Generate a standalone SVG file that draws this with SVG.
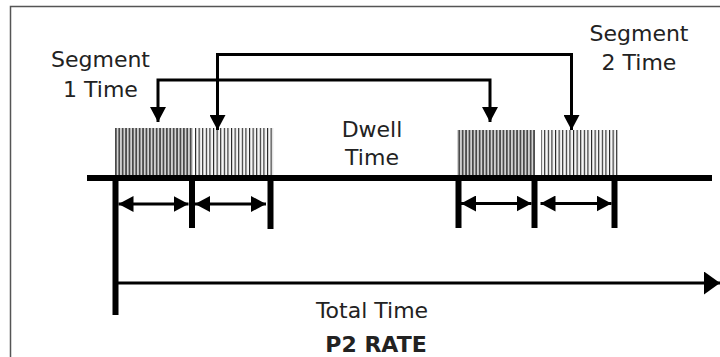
<svg xmlns="http://www.w3.org/2000/svg" width="720" height="357" viewBox="0 0 720 357">
<style>
  .t { font-family: "DejaVu Sans", "Liberation Sans", sans-serif; font-size: 22px; fill: #222; text-anchor: middle; }
  .b { font-weight: bold; }
  .ln { stroke: #000; stroke-width: 3; fill: none; }
  .tick { stroke: #000; stroke-width: 6; fill: none; }
  .ah { fill: #000; }
</style>
<defs>
  <pattern id="dense" patternUnits="userSpaceOnUse" x="115" y="0" width="3.4" height="10">
    <rect width="3.4" height="10" fill="#d2d2d2"/>
    <rect width="1.7" height="10" fill="#4a4a4a"/>
  </pattern>
  <pattern id="sparse" patternUnits="userSpaceOnUse" x="195" y="0" width="3.6" height="10">
    <rect width="3.6" height="10" fill="#f6f6f6"/>
    <rect width="1.1" height="10" fill="#222"/>
  </pattern>
  <marker id="arr" viewBox="0 0 15 16" refX="15" refY="8" markerWidth="15" markerHeight="16" markerUnits="userSpaceOnUse" orient="auto-start-reverse">
    <path d="M0,0 L15,8 L0,16 Z" class="ah"/>
  </marker>
  <marker id="big" viewBox="0 0 16 23" refX="16" refY="11.5" markerWidth="16" markerHeight="23" markerUnits="userSpaceOnUse" orient="auto">
    <path d="M0,0 L16,11.5 L0,23 Z" class="ah"/>
  </marker>
</defs>

<rect id="frame" x="10.5" y="6.5" width="760" height="400" fill="#fff" stroke="#555" stroke-width="1.5"/>

<g id="pulses">
  <rect id="seg1a" x="115" y="128" width="78" height="48" fill="url(#dense)"/>
  <rect id="seg2a" x="195" y="128" width="79" height="48" fill="url(#sparse)"/>
  <rect id="seg1b" x="457" y="130" width="78" height="46" fill="url(#dense)"/>
  <rect id="seg2b" x="541" y="130" width="77" height="46" fill="url(#sparse)"/>
</g>

<g id="axis">
  <line x1="87" y1="178" x2="712" y2="178" stroke="#000" stroke-width="6"/>
  <line class="tick" x1="115.5" y1="178" x2="115.5" y2="315"/>
  <line class="tick" x1="192" y1="178" x2="192" y2="228"/>
  <line class="tick" x1="270.5" y1="178" x2="270.5" y2="229"/>
  <line class="tick" x1="458.5" y1="178" x2="458.5" y2="228"/>
  <line class="tick" x1="534.5" y1="178" x2="534.5" y2="228"/>
  <line class="tick" x1="614.5" y1="178" x2="614.5" y2="228"/>
</g>

<g id="connectors">
  <line class="ln" x1="118.5" y1="204" x2="188.5" y2="204" marker-start="url(#arr)" marker-end="url(#arr)"/>
  <line class="ln" x1="195" y1="204" x2="266" y2="204" marker-start="url(#arr)" marker-end="url(#arr)"/>
  <line class="ln" x1="461" y1="203.5" x2="531.5" y2="203.5" marker-start="url(#arr)" marker-end="url(#arr)"/>
  <line class="ln" x1="540.5" y1="203.5" x2="611.5" y2="203.5" marker-start="url(#arr)" marker-end="url(#arr)"/>
  <line class="ln" x1="117" y1="283" x2="720" y2="283" marker-end="url(#big)"/>
  <path class="ln" d="M158,122 V80 H490 V122" marker-start="url(#arr)" marker-end="url(#arr)"/>
  <path class="ln" d="M217.5,130 V54.5 H571.5 V130" marker-start="url(#arr)" marker-end="url(#arr)"/>
</g>

<g id="labels">
  <text class="t" x="100.5" y="66.5">Segment</text>
  <text class="t" x="100.5" y="96.5">1 Time</text>
  <text class="t" x="639" y="40.5">Segment</text>
  <text class="t" x="639" y="70">2 Time</text>
  <text class="t" x="372" y="136.5">Dwell</text>
  <text class="t" x="372" y="165">Time</text>
  <text class="t" x="372" y="318">Total Time</text>
  <text class="t b" x="376" y="351.5">P2 RATE</text>
</g>
</svg>
